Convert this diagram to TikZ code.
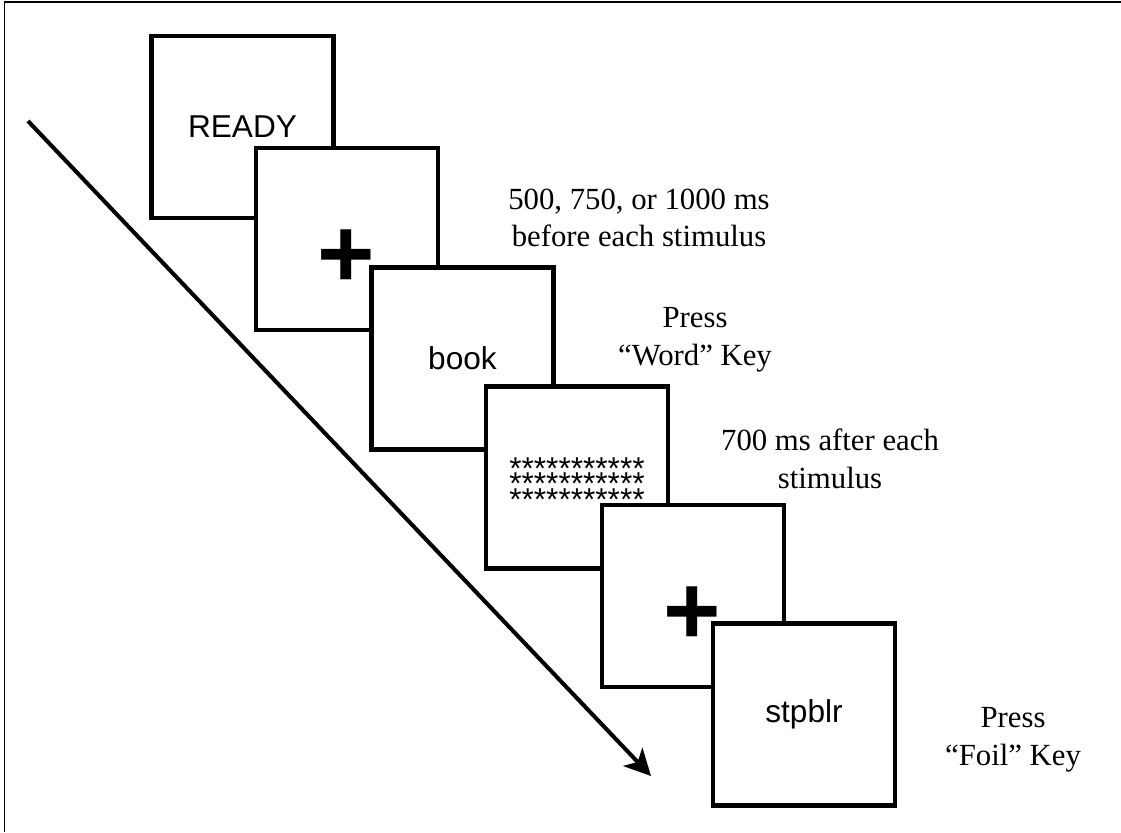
\documentclass[tikz,border=0pt]{standalone}
\usepackage{fontspec}
\setmainfont{Liberation Serif}
\setsansfont{Liberation Sans}
\usetikzlibrary{arrows.meta}

\begin{document}
\begin{tikzpicture}[x=0.02cm, y=-0.02cm, >=Stealth,
        screen/.style={draw, line width=2.4pt, fill=white, minimum size=3.64cm,
            inner sep=0pt, font=\sffamily\fontsize{18}{21}\selectfont},
        fixcross/.style={inner sep=0pt, font=\sffamily\bfseries\fontsize{56}{56}\selectfont},
        note/.style={align=center, inner sep=0pt, font=\fontsize{17.5}{21.5}\selectfont}]
        \useasboundingbox (0,0) rectangle (1121,832);

        % -- frame: only top and left edges are visible --
        \draw[line width=1.1pt] (1121,2) -- (4.5,2) -- (4.5,832);

        % -- time arrow (drawn first, screens lie on top) --
        \coordinate (tstart) at (28,121);
        \coordinate (tend)   at (651,776);
        \draw[->, line width=2.3pt, >={Stealth[length=15pt,width=15pt,inset=4pt]}]
            (tstart) -- (tend);

        % -- screens, each one laid over the one before --
        \node[screen] (ready) at (242.5,127) {READY};
        \node[screen] (fixA)  at (347,239) {};
        \node[fixcross] (crossA) at (346.5,258.5) {+};
        \node[screen] (word)  at (462.5,358.5) {book};
        \node[screen] (mask)  at (577,477.5) {};
        \node[align=center, inner sep=0pt, font=\sffamily\fontsize{18}{9}\selectfont]
            (stars) at (577,484) {***********\\[-4.7pt]***********\\[-4.7pt]***********};
        \node[screen] (fixB)  at (693,596) {};
        \node[fixcross] (crossB) at (692.5,615.5) {+};
        \node[screen] (foil)  at (804,714.5) {stpblr};

        % -- timing / response notes --
        \node[note] (before) at (639,218)   {500, 750, or 1000 ms\\before each stimulus};
        \node[note] (presW)  at (695,339.5) {Press\\“Word” Key};
        \node[note] (after)  at (830,458.5) {700 ms after each\\stimulus};
        \node[note] (presF)  at (1013,740)  {Press\\“Foil” Key};

    \end{tikzpicture}
\end{document}
